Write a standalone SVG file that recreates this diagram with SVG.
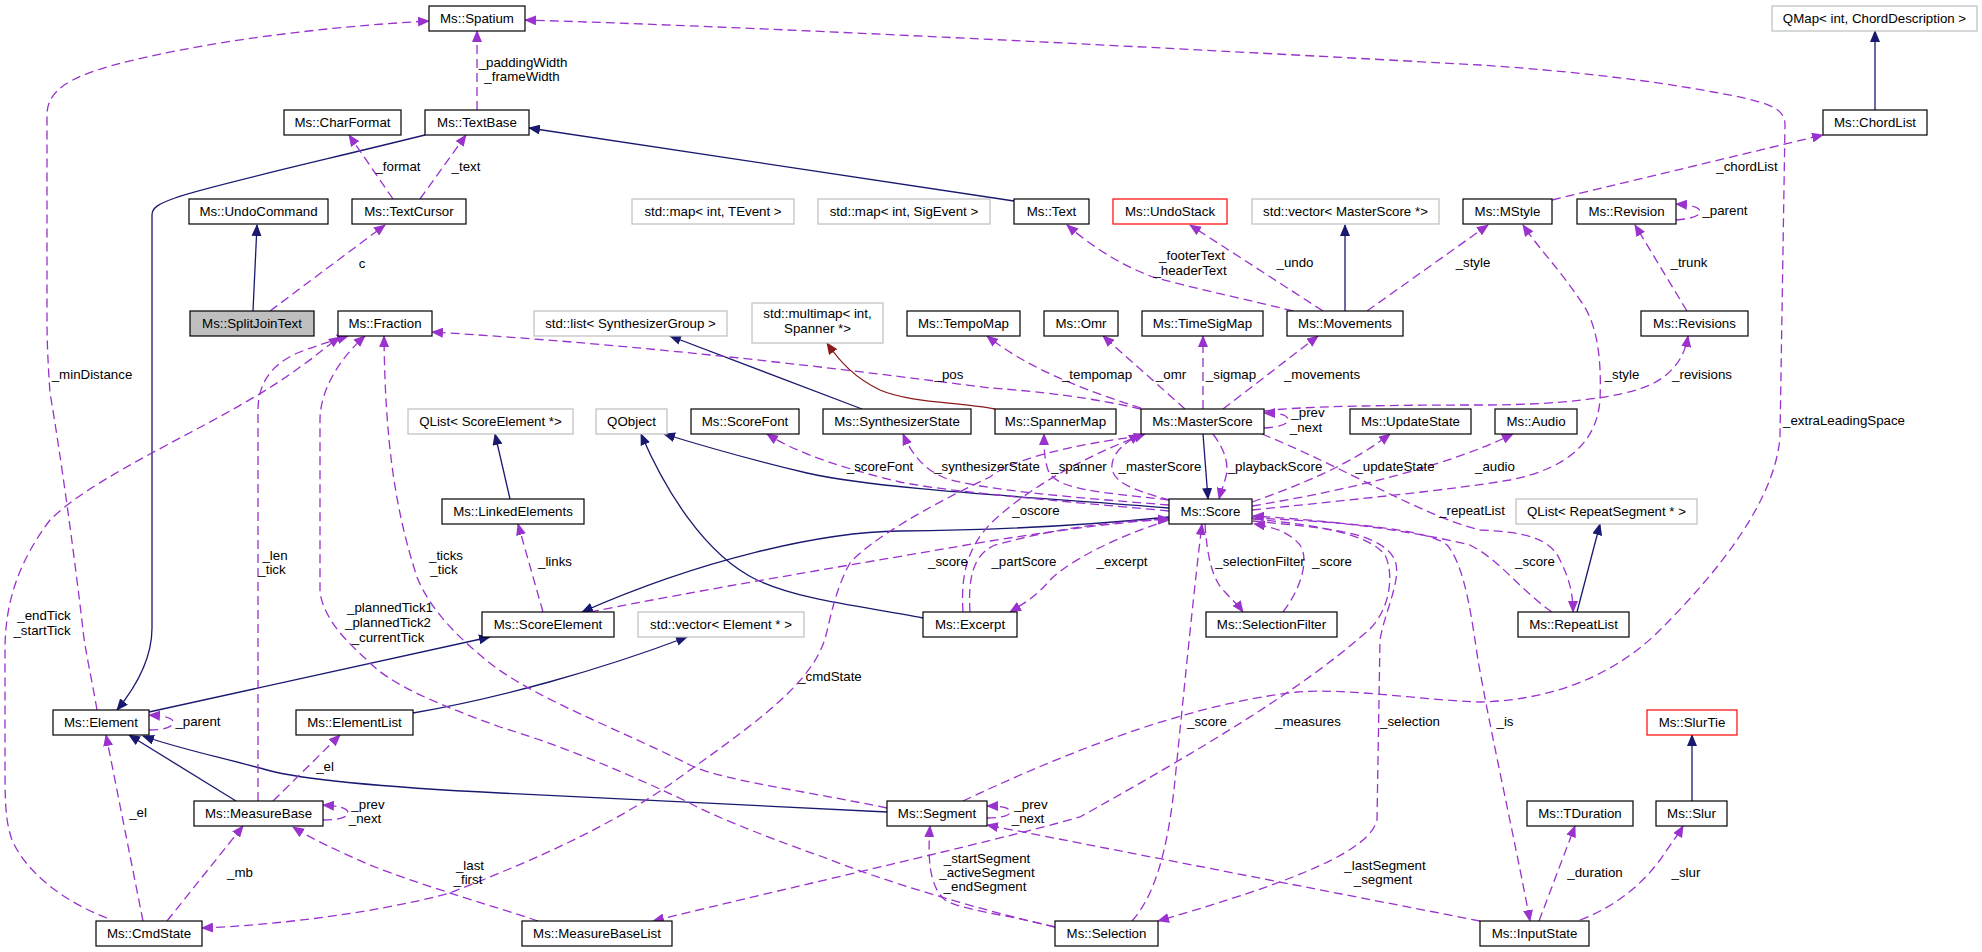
<svg xmlns="http://www.w3.org/2000/svg" width="1982" height="952" viewBox="0 0 1982 952">
<style>
text{font-family:"Liberation Sans",Arial,Helvetica,sans-serif;font-size:13.3px;fill:#000}
.n rect{fill:#fff;stroke:#000;stroke-width:1.2}
.g rect{stroke:#bfbfbf}
.r rect{stroke:#ff0000}
.s rect{fill:#bfbfbf}
.n text,.l text{text-anchor:middle}
.e path{fill:none;stroke-width:1.3}
.inh{stroke:#191970;marker-end:url(#ab)}
.use{stroke:#9a32cd;stroke-dasharray:9,5;marker-end:url(#ap)}
.tpl{stroke:#8b1a1a;marker-end:url(#ar)}
</style>
<defs>
<marker id="ab" viewBox="0 0 12 10" refX="11" refY="5" markerWidth="12" markerHeight="10" markerUnits="userSpaceOnUse" orient="auto"><path d="M0,0L12,5L0,10z" fill="#191970"/></marker>
<marker id="ap" viewBox="0 0 12 10" refX="11" refY="5" markerWidth="12" markerHeight="10" markerUnits="userSpaceOnUse" orient="auto"><path d="M0,0L12,5L0,10z" fill="#9a32cd"/></marker>
<marker id="ar" viewBox="0 0 12 10" refX="11" refY="5" markerWidth="12" markerHeight="10" markerUnits="userSpaceOnUse" orient="auto"><path d="M0,0L12,5L0,10z" fill="#8b1a1a"/></marker>
</defs>
<rect width="1982" height="952" fill="#fff"/>
<g id="edges" class="e">
<path class="inh" d="M253,311L257,225"/>
<path class="inh" d="M425,135C320,161 200,188 175,198C158,204 152,208 152,215L152,628C152,660 135,688 117,710"/>
<path class="inh" d="M1014,201L529,128"/>
<path class="inh" d="M1875,110L1875,31"/>
<path class="inh" d="M1345,311L1345,225"/>
<path class="inh" d="M862,409L670,336"/>
<path class="inh" d="M510,499L495,434"/>
<path class="inh" d="M1169,508C1050,498 880,490 807,473C760,462 700,445 664,434"/>
<path class="inh" d="M923,618C860,606 800,600 757,580C705,555 665,490 641,434"/>
<path class="inh" d="M1169,517C1100,524 1020,530 900,531C820,532 700,560 582,612"/>
<path class="inh" d="M149,712L490,637"/>
<path class="inh" d="M413,713C500,698 600,670 687,637"/>
<path class="inh" d="M236,801L129,735"/>
<path class="inh" d="M887,812L500,793C380,787 300,779 267,770C220,757 180,749 143,736"/>
<path class="inh" d="M1692,801L1692,735"/>
<path class="inh" d="M1577,612L1600,524"/>
<path class="inh" d="M1203,434L1208,499"/>
<path class="tpl" d="M995,409C960,402 910,403 880,390C855,378 840,362 827,343"/>
<path class="use" d="M270,311L385,225"/>
<path class="use" d="M393,199L349,135"/>
<path class="use" d="M420,199L466,135"/>
<path class="use" d="M477,110L477,31"/>
<path class="use" d="M97,710C92,680 85,650 83,630C75,560 60,450 50,393C47,350 47,330 47,320L47,115C47,90 70,78 110,66C200,42 320,27 429,21"/>
<path class="use" d="M963,801C1050,760 1180,705 1297,692C1350,688 1420,700 1480,702C1560,700 1620,670 1660,630C1720,570 1775,500 1780,437L1785,125C1785,108 1770,102 1713,92C1650,80 1560,70 1480,65C1300,55 800,28 525,20"/>
<path class="use" d="M1552,200L1823,135"/>
<path class="use" d="M1676,220C1690,219 1700,216 1700,212C1700,207 1692,205 1676,204"/>
<path class="use" d="M1687,311L1635,225"/>
<path class="use" d="M1293,311C1250,300 1200,290 1153,277C1120,265 1090,245 1067,225"/>
<path class="use" d="M1323,311L1190,225"/>
<path class="use" d="M1367,311L1488,225"/>
<path class="use" d="M1223,409L1318,336"/>
<path class="use" d="M1203,409L1203,336"/>
<path class="use" d="M1185,409L1103,336"/>
<path class="use" d="M1141,408C1090,392 1030,370 987,336"/>
<path class="use" d="M1141,409C1080,395 1020,390 990,388C850,370 650,345 432,332"/>
<path class="use" d="M1169,500C1100,492 1055,490 1048,470C1044,458 1044,446 1044,434"/>
<path class="use" d="M1170,500C1130,490 1110,480 1112,465C1113,452 1125,443 1140,434"/>
<path class="use" d="M1213,434C1225,450 1230,465 1225,480C1222,490 1220,495 1219,499"/>
<path class="use" d="M1264,428C1280,427 1288,424 1288,420C1288,415 1280,413 1264,413"/>
<path class="use" d="M1264,411C1300,406 1400,405 1480,405C1560,405 1620,398 1650,385C1675,373 1685,355 1688,336"/>
<path class="use" d="M1252,510C1350,500 1450,490 1510,480C1570,468 1597,440 1600,400C1602,350 1595,320 1580,300C1560,270 1540,250 1523,225"/>
<path class="use" d="M1252,506C1350,490 1450,465 1513,434"/>
<path class="use" d="M1252,502C1300,485 1350,465 1390,434"/>
<path class="use" d="M1262,434C1350,470 1420,515 1480,530C1525,532 1550,538 1560,560C1570,580 1573,595 1573,612"/>
<path class="use" d="M1552,612C1520,590 1500,560 1470,545C1400,528 1320,520 1253,516"/>
<path class="use" d="M1252,518C1350,522 1430,530 1447,545C1465,565 1472,620 1478,660C1492,740 1515,840 1530,921"/>
<path class="use" d="M1539,921L1575,826"/>
<path class="use" d="M1580,920C1620,905 1645,880 1660,860C1670,845 1678,835 1683,826"/>
<path class="use" d="M1205,524C1207,555 1212,580 1225,592C1232,600 1238,605 1243,612"/>
<path class="use" d="M1283,612C1300,590 1310,560 1300,545C1290,533 1275,527 1254,524"/>
<path class="use" d="M1170,520C1120,535 1070,560 1050,580C1040,592 1030,600 1010,612"/>
<path class="use" d="M970,612C968,580 972,555 995,545C1050,530 1100,522 1169,519"/>
<path class="use" d="M963,612C960,570 970,540 1000,515C1040,480 1100,450 1145,434"/>
<path class="use" d="M590,612C700,590 850,565 990,541C1060,530 1120,522 1169,519"/>
<path class="use" d="M543,612L518,524"/>
<path class="use" d="M1141,436C1070,445 1010,460 990,477C930,505 870,540 850,563C835,590 830,620 826,635C815,680 760,720 690,770C610,830 520,865 450,893C380,912 280,925 202,928"/>
<path class="use" d="M258,801L258,410C258,380 275,362 300,352C318,345 332,341 348,336"/>
<path class="use" d="M887,808C800,790 720,780 690,765C620,730 540,700 495,667C460,640 430,610 417,577C395,510 385,440 384,336"/>
<path class="use" d="M1055,927C980,910 880,880 823,857C760,835 700,810 690,803C620,770 560,745 500,727C440,705 390,685 367,660C345,640 325,620 320,593L320,420C320,390 340,358 365,336"/>
<path class="use" d="M107,918C60,900 25,870 12,840C5,820 5,800 5,760L5,650C5,600 20,560 50,520C100,470 230,420 300,367C315,357 328,345 340,337"/>
<path class="use" d="M143,921L106,735"/>
<path class="use" d="M167,921L243,826"/>
<path class="use" d="M273,801L340,735"/>
<path class="use" d="M323,820C340,820 348,817 348,813C348,808 340,806 323,805"/>
<path class="use" d="M149,730C165,730 173,727 173,722C173,718 165,716 149,715"/>
<path class="use" d="M538,921C490,905 420,885 370,865C340,852 310,838 293,827"/>
<path class="use" d="M1253,519C1320,525 1370,535 1385,555C1395,575 1390,615 1363,635C1300,690 1200,750 1080,817C980,845 800,885 653,921"/>
<path class="use" d="M1253,521C1320,528 1380,530 1395,560C1402,580 1385,610 1380,640L1377,820C1370,850 1300,880 1158,921"/>
<path class="use" d="M1132,921C1160,890 1170,830 1175,780C1185,680 1195,580 1202,524"/>
<path class="use" d="M1055,927C1010,915 960,910 945,900C928,885 928,855 930,826"/>
<path class="use" d="M987,818C1003,818 1010,815 1010,812C1010,808 1003,806 987,806"/>
<path class="use" d="M1480,921L987,825"/>
<path class="use" d="M1169,511C1050,500 950,492 900,482C850,470 800,455 767,434"/>
<path class="use" d="M1169,505C1080,498 980,490 945,478C925,470 912,455 903,434"/>
</g>
<g id="edge-labels" class="l">
<text x="362" y="268">c</text>
<text x="398" y="171">_format</text>
<text x="466" y="171">_text</text>
<text x="523" y="67">_paddingWidth</text>
<text x="522" y="81">_frameWidth</text>
<text x="92" y="379">_minDistance</text>
<text x="1747" y="171">_chordList</text>
<text x="1725" y="215">_parent</text>
<text x="1689" y="267">_trunk</text>
<text x="1192" y="260">_footerText</text>
<text x="1190" y="275">_headerText</text>
<text x="1295" y="267">_undo</text>
<text x="1473" y="267">_style</text>
<text x="1322" y="379">_movements</text>
<text x="1231" y="379">_sigmap</text>
<text x="1171" y="379">_omr</text>
<text x="1097" y="379">_tempomap</text>
<text x="949" y="379">_pos</text>
<text x="1702" y="379">_revisions</text>
<text x="1622" y="379">_style</text>
<text x="1308" y="417">_prev</text>
<text x="1306" y="432">_next</text>
<text x="880" y="471">_scoreFont</text>
<text x="987" y="471">_synthesizerState</text>
<text x="1079" y="471">_spanner</text>
<text x="1160" y="471">_masterScore</text>
<text x="1275" y="471">_playbackScore</text>
<text x="1395" y="471">_updateState</text>
<text x="1495" y="471">_audio</text>
<text x="1472" y="515">_repeatList</text>
<text x="1036" y="515">_oscore</text>
<text x="948" y="566">_score</text>
<text x="1024" y="566">_partScore</text>
<text x="1122" y="566">_excerpt</text>
<text x="1260" y="566">_selectionFilter</text>
<text x="1332" y="566">_score</text>
<text x="1535" y="566">_score</text>
<text x="555" y="566">_links</text>
<text x="275" y="560">_len</text>
<text x="272" y="574">_tick</text>
<text x="446" y="560">_ticks</text>
<text x="444" y="574">_tick</text>
<text x="390" y="612">_plannedTick1</text>
<text x="388" y="627">_plannedTick2</text>
<text x="388" y="642">_currentTick</text>
<text x="44" y="620">_endTick</text>
<text x="42" y="635">_startTick</text>
<text x="830" y="681">_cmdState</text>
<text x="198" y="726">_parent</text>
<text x="325" y="771">_el</text>
<text x="368" y="809">_prev</text>
<text x="365" y="823">_next</text>
<text x="138" y="817">_el</text>
<text x="240" y="877">_mb</text>
<text x="470" y="870">_last</text>
<text x="468" y="884">_first</text>
<text x="987" y="863">_startSegment</text>
<text x="987" y="877">_activeSegment</text>
<text x="985" y="891">_endSegment</text>
<text x="1031" y="809">_prev</text>
<text x="1028" y="823">_next</text>
<text x="1207" y="726">_score</text>
<text x="1308" y="726">_measures</text>
<text x="1410" y="726">_selection</text>
<text x="1505" y="726">_is</text>
<text x="1385" y="870">_lastSegment</text>
<text x="1383" y="884">_segment</text>
<text x="1595" y="877">_duration</text>
<text x="1686" y="877">_slur</text>
<text x="1844" y="425">_extraLeadingSpace</text>
</g>
<g id="Spatium" class="n"><rect x="429" y="6" width="96" height="25"/><text x="477" y="23">Ms::Spatium</text></g>
<g id="QMapChord" class="n g"><rect x="1772" y="6" width="205" height="25"/><text x="1874.5" y="23">QMap&lt; int, ChordDescription &gt;</text></g>
<g id="CharFormat" class="n"><rect x="284" y="110" width="117" height="25"/><text x="342.5" y="127">Ms::CharFormat</text></g>
<g id="TextBase" class="n"><rect x="425" y="110" width="104" height="25"/><text x="477" y="127">Ms::TextBase</text></g>
<g id="ChordList" class="n"><rect x="1823" y="110" width="104" height="25"/><text x="1875" y="127">Ms::ChordList</text></g>
<g id="UndoCommand" class="n"><rect x="189" y="199" width="139" height="25"/><text x="258.5" y="216">Ms::UndoCommand</text></g>
<g id="TextCursor" class="n"><rect x="352" y="199" width="114" height="25"/><text x="409" y="216">Ms::TextCursor</text></g>
<g id="MapTEvent" class="n g"><rect x="632" y="199" width="162" height="25"/><text x="713" y="216">std::map&lt; int, TEvent &gt;</text></g>
<g id="MapSigEvent" class="n g"><rect x="818" y="199" width="172" height="25"/><text x="904" y="216">std::map&lt; int, SigEvent &gt;</text></g>
<g id="Text" class="n"><rect x="1014" y="199" width="75" height="25"/><text x="1051.5" y="216">Ms::Text</text></g>
<g id="UndoStack" class="n r"><rect x="1113" y="199" width="114" height="25"/><text x="1170" y="216">Ms::UndoStack</text></g>
<g id="VecMasterScore" class="n g"><rect x="1252" y="199" width="187" height="25"/><text x="1345.5" y="216">std::vector&lt; MasterScore *&gt;</text></g>
<g id="MStyle" class="n"><rect x="1463" y="199" width="89" height="25"/><text x="1507.5" y="216">Ms::MStyle</text></g>
<g id="Revision" class="n"><rect x="1577" y="199" width="99" height="25"/><text x="1626.5" y="216">Ms::Revision</text></g>
<g id="SplitJoinText" class="n s"><rect x="190" y="311" width="124" height="25"/><text x="252" y="328">Ms::SplitJoinText</text></g>
<g id="Fraction" class="n"><rect x="338" y="311" width="94" height="25"/><text x="385" y="328">Ms::Fraction</text></g>
<g id="ListSynthGroup" class="n g"><rect x="534" y="311" width="193" height="25"/><text x="630.5" y="328">std::list&lt; SynthesizerGroup &gt;</text></g>
<g id="MultimapSpanner" class="n g"><rect x="752" y="303" width="131" height="40"/><text x="817.5" y="318">std::multimap&lt; int,</text><text x="817.5" y="333">Spanner *&gt;</text></g>
<g id="TempoMap" class="n"><rect x="907" y="311" width="113" height="25"/><text x="963.5" y="328">Ms::TempoMap</text></g>
<g id="Omr" class="n"><rect x="1044" y="311" width="74" height="25"/><text x="1081" y="328">Ms::Omr</text></g>
<g id="TimeSigMap" class="n"><rect x="1142" y="311" width="121" height="25"/><text x="1202.5" y="328">Ms::TimeSigMap</text></g>
<g id="Movements" class="n"><rect x="1287" y="311" width="116" height="25"/><text x="1345" y="328">Ms::Movements</text></g>
<g id="Revisions" class="n"><rect x="1641" y="311" width="107" height="25"/><text x="1694.5" y="328">Ms::Revisions</text></g>
<g id="QListScoreElement" class="n g"><rect x="408" y="409" width="165" height="25"/><text x="490.5" y="426">QList&lt; ScoreElement *&gt;</text></g>
<g id="QObject" class="n g"><rect x="596" y="409" width="71" height="25"/><text x="631.5" y="426">QObject</text></g>
<g id="ScoreFont" class="n"><rect x="691" y="409" width="108" height="25"/><text x="745" y="426">Ms::ScoreFont</text></g>
<g id="SynthesizerState" class="n"><rect x="823" y="409" width="148" height="25"/><text x="897" y="426">Ms::SynthesizerState</text></g>
<g id="SpannerMap" class="n"><rect x="995" y="409" width="121" height="25"/><text x="1055.5" y="426">Ms::SpannerMap</text></g>
<g id="MasterScore" class="n"><rect x="1141" y="409" width="123" height="25"/><text x="1202.5" y="426">Ms::MasterScore</text></g>
<g id="UpdateState" class="n"><rect x="1350" y="409" width="121" height="25"/><text x="1410.5" y="426">Ms::UpdateState</text></g>
<g id="Audio" class="n"><rect x="1495" y="409" width="82" height="25"/><text x="1536" y="426">Ms::Audio</text></g>
<g id="LinkedElements" class="n"><rect x="442" y="499" width="142" height="25"/><text x="513" y="516">Ms::LinkedElements</text></g>
<g id="Score" class="n"><rect x="1169" y="499" width="83" height="25"/><text x="1210.5" y="516">Ms::Score</text></g>
<g id="QListRepeatSegment" class="n g"><rect x="1516" y="499" width="181" height="25"/><text x="1606.5" y="516">QList&lt; RepeatSegment * &gt;</text></g>
<g id="ScoreElement" class="n"><rect x="482" y="612" width="132" height="25"/><text x="548" y="629">Ms::ScoreElement</text></g>
<g id="VecElement" class="n g"><rect x="638" y="612" width="166" height="25"/><text x="721" y="629">std::vector&lt; Element * &gt;</text></g>
<g id="Excerpt" class="n"><rect x="923" y="612" width="94" height="25"/><text x="970" y="629">Ms::Excerpt</text></g>
<g id="SelectionFilter" class="n"><rect x="1206" y="612" width="131" height="25"/><text x="1271.5" y="629">Ms::SelectionFilter</text></g>
<g id="RepeatList" class="n"><rect x="1518" y="612" width="111" height="25"/><text x="1573.5" y="629">Ms::RepeatList</text></g>
<g id="Element" class="n"><rect x="53" y="710" width="96" height="25"/><text x="101" y="727">Ms::Element</text></g>
<g id="ElementList" class="n"><rect x="296" y="710" width="117" height="25"/><text x="354.5" y="727">Ms::ElementList</text></g>
<g id="SlurTie" class="n r"><rect x="1647" y="710" width="90" height="25"/><text x="1692" y="727">Ms::SlurTie</text></g>
<g id="MeasureBase" class="n"><rect x="194" y="801" width="129" height="25"/><text x="258.5" y="818">Ms::MeasureBase</text></g>
<g id="Segment" class="n"><rect x="887" y="801" width="100" height="25"/><text x="937" y="818">Ms::Segment</text></g>
<g id="TDuration" class="n"><rect x="1527" y="801" width="106" height="25"/><text x="1580" y="818">Ms::TDuration</text></g>
<g id="Slur" class="n"><rect x="1656" y="801" width="71" height="25"/><text x="1691.5" y="818">Ms::Slur</text></g>
<g id="CmdState" class="n"><rect x="96" y="921" width="106" height="25"/><text x="149" y="938">Ms::CmdState</text></g>
<g id="MeasureBaseList" class="n"><rect x="522" y="921" width="150" height="25"/><text x="597" y="938">Ms::MeasureBaseList</text></g>
<g id="Selection" class="n"><rect x="1055" y="921" width="103" height="25"/><text x="1106.5" y="938">Ms::Selection</text></g>
<g id="InputState" class="n"><rect x="1480" y="921" width="109" height="25"/><text x="1534.5" y="938">Ms::InputState</text></g>
</svg>
